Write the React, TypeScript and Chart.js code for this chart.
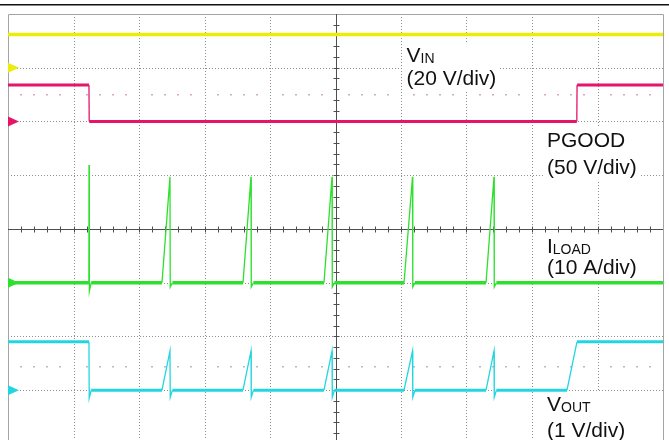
import React, { useEffect, useRef } from "react";
import { Chart, registerables } from "chart.js";

Chart.register(...registerables);

// Screen: 10 horizontal divisions, 8 vertical divisions (bottom ~0.07 div cropped)
const X_DIVS = 10;
const Y_DIVS_VISIBLE = 7.926;

// Time axis in divisions; values in each channel's own units
const VIN_T = [0, 10];
const VIN_V = [12.4, 12.4];

const PGOOD_T = [0, 1.236, 1.24, 8.684, 8.688, 10];
const PGOOD_V = [34, 34, 0, 0, 34, 34];

const ILOAD_T = [
  0, 1.235, 1.237, 1.242, 1.27,
  2.351, 2.473, 2.477, 2.51,
  3.588, 3.71, 3.714, 3.747,
  4.824, 4.947, 4.951, 4.984,
  6.046, 6.176, 6.18, 6.213,
  7.298, 7.42, 7.424, 7.457,
  10,
];
const ILOAD_A = [
  0, 0, 21.9, -1.6, 0,
  0, 19.7, -0.8, 0,
  0, 19.7, -0.8, 0,
  0, 19.7, -0.8, 0,
  0, 19.7, -0.8, 0,
  0, 19.7, -0.8, 0,
  0,
];

const VOUT_T = [
  0, 1.236, 1.24, 1.27,
  2.351, 2.473, 2.477, 2.51,
  3.588, 3.71, 3.714, 3.747,
  4.824, 4.947, 4.951, 4.984,
  6.046, 6.176, 6.18, 6.213,
  7.298, 7.42, 7.424, 7.457,
  8.534, 8.687, 10,
];
const VOUT_V = [
  0.9, 0.9, -0.15, 0,
  0, 0.73, -0.13, 0,
  0, 0.73, -0.13, 0,
  0, 0.73, -0.13, 0,
  0, 0.73, -0.13, 0,
  0, 0.73, -0.13, 0,
  0, 0.9, 0.9,
];

// Channel names, scales (units/div) and ground-marker positions (div from top)
const CH_NAMES = ["VIN", "PGOOD", "ILOAD", "VOUT"];
const CH_SCALES = [20, 50, 10, 1];
const CH_OFFSETS = [1, 2, 5, 7];
const CH_TIMES = [VIN_T, PGOOD_T, ILOAD_T, VOUT_T];
const CH_VALUES = [VIN_V, PGOOD_V, ILOAD_A, VOUT_V];
const CH_COLORS = ["#ecec0c", "#e6156a", "#2ee02e", "#22d6e0"];
const CH_WIDTHS = [3.5, 3, 3.5, 3];

// Labels
const LABEL_MAIN = ["V", "PGOOD", "I", "V"];
const LABEL_SUB = ["IN", "", "LOAD", "OUT"];
const LABEL_SCALE = ["(20 V/div)", "(50 V/div)", "(10 A/div)", "(1 V/div)"];
const LABEL_T = [6.084, 8.229, 8.229, 8.229];
const LABEL_D1 = [0.893, 2.474, 4.447, 7.386];
const LABEL_D2 = [1.313, 2.986, 4.837, 7.87];

// Faint reference dot rows (div from top)
const DOT_ROWS = [1.49, 6.55];
const DOT_COLORS = ["#d7a9bd", "#b4bcbc"];

const FONT_MAIN = '21px "Liberation Sans", Arial, sans-serif';
const FONT_SUB = '14px "Liberation Sans", Arial, sans-serif';

function labelBoxes(ctx: CanvasRenderingContext2D, x: any, y: any) {
  const boxes: { x: number; y: number; w: number; h: number; i: number }[] = [];
  for (let i = 0; i < LABEL_MAIN.length; i++) {
    const px = x.getPixelForValue(LABEL_T[i]);
    ctx.font = FONT_MAIN;
    const wMain = ctx.measureText(LABEL_MAIN[i]).width;
    const wScale = ctx.measureText(LABEL_SCALE[i]).width;
    ctx.font = FONT_SUB;
    const wSub = LABEL_SUB[i] ? ctx.measureText(LABEL_SUB[i]).width : 0;
    const w = Math.max(wMain + wSub, wScale);
    const b1 = y.getPixelForValue(LABEL_D1[i]);
    const b2 = y.getPixelForValue(LABEL_D2[i]);
    boxes.push({ x: px - 3, y: b1 - 19, w: w + 6, h: b2 - b1 + 25, i });
  }
  return boxes;
}

const scopePlugin = {
  id: "scope",
  beforeDatasetsDraw(chart: any) {
    const { ctx, chartArea: a, scales } = chart;
    const x = scales.x;
    const y = scales.y;
    ctx.save();
    const r = (v: number) => Math.round(v) + 0.5;

    // dotted grid
    ctx.lineWidth = 1;
    ctx.strokeStyle = "#8e8e8e";
    ctx.setLineDash([1, 2]);
    for (let i = 1; i < X_DIVS; i++) {
      if (i === X_DIVS / 2) continue;
      const px = r(x.getPixelForValue(i));
      ctx.beginPath();
      ctx.moveTo(px, a.top);
      ctx.lineTo(px, a.bottom);
      ctx.stroke();
    }
    for (let j = 1; j < 8; j++) {
      if (j === 4) continue;
      const py = r(y.getPixelForValue(j));
      ctx.beginPath();
      ctx.moveTo(a.left, py);
      ctx.lineTo(a.right, py);
      ctx.stroke();
    }
    ctx.setLineDash([]);

    // border
    ctx.strokeStyle = "#a4a4a4";
    ctx.beginPath();
    ctx.moveTo(r(a.left), a.bottom);
    ctx.lineTo(r(a.left), r(a.top));
    ctx.lineTo(r(a.right), r(a.top));
    ctx.lineTo(r(a.right), a.bottom);
    ctx.stroke();

    // faint reference dot rows
    DOT_ROWS.forEach((d, k) => {
      ctx.fillStyle = DOT_COLORS[k];
      const py = Math.round(y.getPixelForValue(d));
      for (let s = 1; s < X_DIVS * 5; s++) {
        if (s % 5 === 0) continue;
        const px = Math.round(x.getPixelForValue(s / 5));
        ctx.fillRect(px - 1, py, 2, 1.5);
      }
    });

    // center cross with minor ticks
    ctx.strokeStyle = "#4e4e4e";
    const cx = r(x.getPixelForValue(X_DIVS / 2));
    const cy = r(y.getPixelForValue(4));
    ctx.beginPath();
    ctx.moveTo(cx, a.top);
    ctx.lineTo(cx, a.bottom);
    ctx.moveTo(a.left, cy);
    ctx.lineTo(a.right, cy);
    for (let s = 1; s < X_DIVS * 5; s++) {
      const px = r(x.getPixelForValue(s / 5));
      ctx.moveTo(px, cy - 3);
      ctx.lineTo(px, cy + 3);
    }
    for (let s = 1; s < 40; s++) {
      const py = r(y.getPixelForValue(s / 5));
      if (py > a.bottom) break;
      ctx.moveTo(cx - 3, py);
      ctx.lineTo(cx + 3, py);
    }
    ctx.stroke();

    // white boxes behind labels
    ctx.fillStyle = "#ffffff";
    labelBoxes(ctx, x, y).forEach((b) => ctx.fillRect(b.x, b.y, b.w, b.h));

    ctx.restore();
  },
  afterDatasetsDraw(chart: any) {
    const { ctx, chartArea: a, scales } = chart;
    const x = scales.x;
    const y = scales.y;
    ctx.save();

    // ground markers
    CH_OFFSETS.forEach((d, i) => {
      const py = y.getPixelForValue(d);
      ctx.fillStyle = CH_COLORS[i];
      ctx.beginPath();
      ctx.moveTo(a.left, py - 5);
      ctx.lineTo(a.left + 11, py);
      ctx.lineTo(a.left, py + 5);
      ctx.closePath();
      ctx.fill();
    });

    // labels
    ctx.fillStyle = "#111111";
    ctx.textBaseline = "alphabetic";
    ctx.textAlign = "left";
    for (let i = 0; i < LABEL_MAIN.length; i++) {
      const px = x.getPixelForValue(LABEL_T[i]);
      const b1 = y.getPixelForValue(LABEL_D1[i]);
      const b2 = y.getPixelForValue(LABEL_D2[i]);
      ctx.font = FONT_MAIN;
      ctx.fillText(LABEL_MAIN[i], px, b1);
      const wMain = ctx.measureText(LABEL_MAIN[i]).width;
      ctx.fillText(LABEL_SCALE[i], px, b2);
      if (LABEL_SUB[i]) {
        ctx.font = FONT_SUB;
        ctx.fillText(LABEL_SUB[i], px + wMain, b1 + 1);
      }
    }

    // top black rule of the figure
    ctx.fillStyle = "#111111";
    ctx.fillRect(0, 4, chart.width, 1.5);

    ctx.restore();
  },
};

export default function App() {
  const ref = useRef<HTMLCanvasElement | null>(null);

  useEffect(() => {
    if (!ref.current) return;
    const datasets = CH_NAMES.map((name, i) => ({
      label: name,
      data: CH_TIMES[i].map((t, k) => ({
        x: t,
        y: CH_OFFSETS[i] - CH_VALUES[i][k] / CH_SCALES[i],
      })),
      borderColor: CH_COLORS[i],
      borderWidth: CH_WIDTHS[i],
      pointRadius: 0,
      tension: 0,
      fill: false,
      segment: {
        borderWidth: (c: any) =>
          Math.abs(c.p0.parsed.y - c.p1.parsed.y) > 1e-9 ? 1.3 : CH_WIDTHS[i],
      },
    }));

    const chart = new Chart(ref.current, {
      type: "line",
      data: { datasets },
      options: {
        animation: false,
        responsive: false,
        events: [],
        layout: { padding: { left: 8, top: 14, right: 6, bottom: 0 } },
        scales: {
          x: { type: "linear", min: 0, max: X_DIVS, display: false },
          y: { type: "linear", min: 0, max: Y_DIVS_VISIBLE, reverse: true, display: false },
        },
        plugins: { legend: { display: false }, tooltip: { enabled: false } },
      },
      plugins: [scopePlugin],
    } as any);
    return () => chart.destroy();
  }, []);

  return (
    <div style={{ position: "absolute", left: 0, top: 0, width: 669, height: 440, background: "#fff" }}>
      <canvas ref={ref} width={669} height={440} style={{ display: "block" }} />
    </div>
  );
}
